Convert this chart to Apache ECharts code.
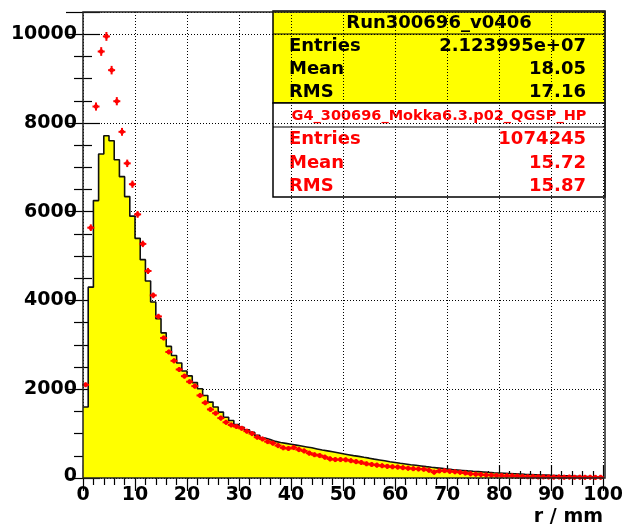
<!DOCTYPE html>
<html>
<head>
<meta charset="utf-8">
<script src="https://cdn.jsdelivr.net/npm/echarts@6/dist/echarts.min.js"></script>
<style>
html,body{margin:0;padding:0;background:#fff;}
#chart{width:626px;height:526px;}
</style>
</head>
<body>
<div id="chart"></div>
<script>
// ---- data (bin width 1 mm, bins 0..99) ----
const binEdgesStart = 0;
const dataCounts = [
  1600, 4300, 6250, 7300, 7710, 7600, 7170, 6790, 6340, 5900,
  5400, 4920, 4440, 3965, 3590, 3270, 2965, 2760, 2590, 2410,
  2300, 2150, 2010, 1860, 1710, 1600, 1485, 1370, 1295, 1205,
  1145, 1085, 1030, 960, 900, 865, 825, 800, 780, 760,
  740, 720, 700, 680, 655, 630, 612, 590, 568, 545,
  525, 505, 487, 466, 447, 425, 406, 387, 368, 350,
  332, 316, 300, 286, 271, 256, 242, 229, 216, 203,
  190, 180, 170, 160, 151, 143, 135, 127, 120, 114,
  108, 102, 96, 90, 84, 79, 74, 69, 64, 59,
  55, 51, 47, 43, 39, 35, 31, 27, 23, 18
];
const mcCounts = [
  2100, 5640, 8370, 9610, 9950, 9190, 8490, 7800, 7090, 6620,
  5940, 5275, 4665, 4115, 3640, 3155, 2840, 2640, 2445, 2295,
  2170, 2070, 1860, 1695, 1545, 1460, 1350, 1255, 1195, 1160,
  1120, 1055, 1000, 920, 880, 820, 785, 730, 680, 665,
  685, 640, 610, 560, 525, 505, 470, 430, 415, 415,
  410, 390, 368, 350, 320, 305, 290, 276, 262, 252,
  246, 232, 220, 210, 203, 198, 176, 132, 160, 165,
  150, 140, 128, 112, 94, 86, 78, 68, 63, 58,
  53, 50, 47, 42, 35, 28, 30, 25, 26, 22,
  20, 24, 18, 20, 16, 18, 15, 17, 14, 16
];
const xTickValues = [0, 10, 20, 30, 40, 50, 60, 70, 80, 90, 100];
const yTickValues = [0, 2000, 4000, 6000, 8000, 10000];
const xTitle = 'r / mm';
const stats1 = {title: 'Run300696_v0406', rows: [['Entries', '2.123995e+07'], ['Mean', '18.05'], ['RMS', '17.16']]};
const stats2 = {title: 'G4_300696_Mokka6.3.p02_QGSP_HP', rows: [['Entries', '1074245'], ['Mean', '15.72'], ['RMS', '15.87']]};

// ---- build series data ----
const histLine = dataCounts.map((v, i) => [binEdgesStart + i, v]);
histLine.push([binEdgesStart + dataCounts.length, dataCounts[dataCounts.length - 1]]);
const mcPoints = mcCounts.map((v, i) => [binEdgesStart + i + 0.5, v]);

const FONT = '"DejaVu Sans", sans-serif';
const chart = echarts.init(document.getElementById('chart'), null, {renderer: 'canvas'});

const G = {left: 83, top: 12, right: 21, bottom: 48};
const W = 626 - G.left - G.right, H = 526 - G.top - G.bottom;

function xAxisCfg(pos, labels) {
  return {
    type: 'value', position: pos, min: 0, max: 100, interval: 10,
    axisLine: {show: false},
    axisTick: {show: true, inside: true, length: 13, lineStyle: {color: '#000', width: 1.2}},
    minorTick: {show: true, splitNumber: 5, length: 7, lineStyle: {color: '#000', width: 1.2}},
    axisLabel: labels ? {show: true, margin: 8, fontFamily: FONT, fontWeight: 'bold', fontSize: 19, color: '#000',
      customValues: xTickValues} : {show: false},
    splitLine: {show: labels, lineStyle: {color: '#000', type: [1, 2], width: 1}},
    minorSplitLine: {show: false}
  };
}
function yAxisCfg(pos, labels) {
  return {
    type: 'value', position: pos, min: 0, max: 10500, interval: 2000,
    axisLine: {show: false},
    axisTick: {show: true, inside: true, length: 17, lineStyle: {color: '#000', width: 1.2}},
    minorTick: {show: true, splitNumber: 4, length: 9, lineStyle: {color: '#000', width: 1.2}},
    axisLabel: labels ? {show: true, margin: 6, fontFamily: FONT, fontWeight: 'bold', fontSize: 19, color: '#000',
      customValues: yTickValues,
      formatter: v => v === 0 ? '{z|0}' : String(v),
      rich: {z: {fontFamily: FONT, fontWeight: 'bold', fontSize: 19, color: '#000', padding: [0, 0, 4, 0]}}} : {show: false},
    splitLine: {show: labels, lineStyle: {color: '#000', type: [1, 2], width: 1}},
    minorSplitLine: {show: false}
  };
}

function renderMarker(params, api) {
  const x = api.value(0), v = api.value(1);
  const err = Math.sqrt(Math.max(v, 0));
  const c = api.coord([x, v]);
  const t = api.coord([x, v + err]);
  const b = api.coord([x, Math.max(v - err, 0)]);
  const top = Math.min(t[1], c[1] - 2.5), bot = Math.max(b[1], c[1] + 2.5);
  const red = '#ff0000';
  return {
    type: 'group',
    children: [
      {type: 'line', shape: {x1: c[0] - 3.5, y1: c[1], x2: c[0] + 3.5, y2: c[1]}, style: {stroke: red, lineWidth: 2}},
      {type: 'line', shape: {x1: c[0], y1: top, x2: c[0], y2: bot}, style: {stroke: red, lineWidth: 2}},
      {type: 'circle', shape: {cx: c[0], cy: c[1], r: 2.3}, style: {fill: red}}
    ]
  };
}

function statsBox(s, x, y, w, h, titleH, color, fill, titleSize) {
  const els = [
    {type: 'rect', shape: {x: x, y: y, width: w, height: h}, style: {fill: fill, stroke: '#000', lineWidth: 1.5}},
    {type: 'line', shape: {x1: x, y1: y + titleH, x2: x + w, y2: y + titleH}, style: {stroke: '#000', lineWidth: 1.2}},
    {type: 'text', style: {text: s.title, x: x + w / 2, y: y + titleH / 2 + 1, align: 'center', verticalAlign: 'middle',
      font: 'bold ' + titleSize + 'px ' + FONT, fill: color}}
  ];
  const rowH = (h - titleH) / 3;
  s.rows.forEach((r, i) => {
    const cy = y + titleH + rowH * (i + 0.5) + 1;
    els.push({type: 'text', style: {text: r[0], x: x + 16, y: cy, align: 'left', verticalAlign: 'middle', font: 'bold 18px ' + FONT, fill: color}});
    els.push({type: 'text', style: {text: r[1], x: x + w - 19, y: cy, align: 'right', verticalAlign: 'middle', font: 'bold 18px ' + FONT, fill: color}});
  });
  return els;
}

const option = {
  animation: false,
  backgroundColor: '#fff',
  grid: {left: G.left, top: G.top, right: G.right, bottom: G.bottom, containLabel: false},
  xAxis: [xAxisCfg('bottom', true), xAxisCfg('top', false)],
  yAxis: [yAxisCfg('left', true), yAxisCfg('right', false)],
  series: [
    {
      type: 'line', name: 'data', data: histLine, step: 'end', symbol: 'none', z: 2,
      lineStyle: {color: '#111', width: 1.6},
      areaStyle: {color: '#ffff00', opacity: 1, origin: 'start'}
    },
    {
      type: 'custom', name: 'mc', data: mcPoints, renderItem: renderMarker, z: 3,
      encode: {x: 0, y: 1}
    }
  ],
  graphic: [
    {type: 'rect', z: 50, shape: {x: G.left, y: G.top, width: W, height: H}, style: {fill: 'none', stroke: '#222', lineWidth: 1.5}},
    {type: 'text', z: 50, style: {text: xTitle, x: 603, y: 517, align: 'right', verticalAlign: 'middle', font: 'bold 19px ' + FONT, fill: '#000'}},
    {type: 'group', z: 60, children: statsBox(stats1, 273, 11, 332, 92, 23, '#000', '#ffff00', 18)},
    {type: 'group', z: 60, children: statsBox(stats2, 273, 103, 332, 94, 24, '#ff0000', '#ffffff', 14.5)}
  ]
};
chart.setOption(option);
</script>
</body>
</html>
